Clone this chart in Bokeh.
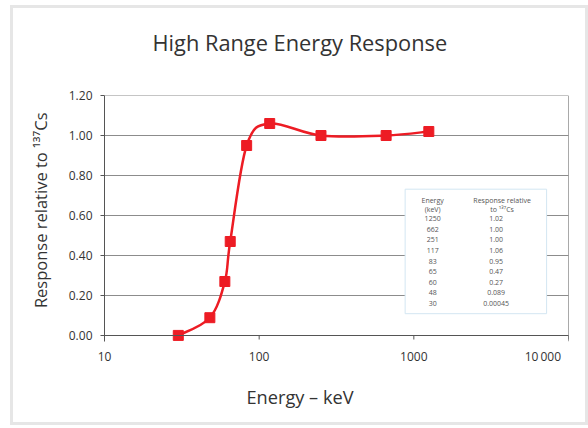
import numpy as np
from bokeh.plotting import figure
from bokeh.models import (Range1d, FixedTicker, NumeralTickFormatter, Span, Title,
                          ColumnDataSource, CustomJSTickFormatter)
from bokeh.core.properties import value
from bokeh.embed import file_html
from bokeh.resources import INLINE

# ---- data ----
energy_kev = [30, 48, 60, 65, 83, 117, 251, 662, 1250]
response = [0.00045, 0.089, 0.27, 0.47, 0.95, 1.06, 1.00, 1.00, 1.02]
response_labels = ["0.00045", "0.089", "0.27", "0.47", "0.95", "1.06", "1.00", "1.00", "1.02"]
x_ticks = [10, 100, 1000, 10000]
x_tick_labels = ["10", "100", "1000", "10\u2009000\u2007\u2007\u2007\u2007"]
y_ticks = [0.0, 0.2, 0.4, 0.6, 0.8, 1.0, 1.2]
table_headers_1 = ["Energy", "(keV)"]
table_headers_2 = ["Response relative", "to \u00b9\u00b3\u2077Cs"]

FONT = "Open Sans"
RED = "#ed1c24"
TXT = "#333333"
GRID = "#8c8c8c"
AXIS = "#555555"

W, H = 588, 428
p = figure(width=W, height=H, x_axis_type="log",
           x_range=Range1d(10, 10000), y_range=Range1d(-0.03, 1.2),
           output_backend="svg", toolbar_location=None, title_location=None,
           min_border_left=104, min_border_right=20, min_border_top=95, min_border_bottom=87)
p.outline_line_color = None
p.background_fill_color = "white"
p.border_fill_color = "white"
p.stylesheets = [
    ":host { position: relative; }",
    ":host::after { content: ''; position: absolute; left: 10px; top: 5px; width: 572px; height: 414px;"
    " border: 3px solid #e6e6e6; pointer-events: none; z-index: 100; }",
]

# titles (spacer first = closest to the frame)
p.add_layout(Title(text="\u00a0", text_font_size="1px", standoff=31), "above")
p.add_layout(Title(text="High Range Energy Response", align="left", offset=48, standoff=10,
                   text_font=FONT, text_font_size="21.8px", text_font_style="normal",
                   text_color=TXT), "above")

# axes
xa = p.xaxis[0]
xa.ticker = FixedTicker(ticks=x_ticks)
xa.formatter = CustomJSTickFormatter(args=dict(tv=x_ticks, tl=x_tick_labels), code="""
    for (let i = 0; i < tv.length; i++) {
        if (Math.abs(Math.log10(tick) - Math.log10(tv[i])) < 1e-6) { return tl[i]; }
    }
    return "";
""")
xa.minor_tick_line_color = None
xa.major_tick_in = 0
xa.major_tick_out = 0
xa.major_tick_line_color = None
xa.axis_line_color = None
xa.major_label_standoff = 6
xa.major_label_text_font = FONT
xa.major_label_text_font_size = "12px"
xa.major_label_text_color = TXT

ya = p.yaxis[0]
ya.ticker = FixedTicker(ticks=y_ticks)
ya.formatter = NumeralTickFormatter(format="0.00")
ya.minor_tick_line_color = None
ya.major_tick_in = 0
ya.major_tick_out = 4
ya.major_label_standoff = 8
ya.axis_line_color = AXIS
ya.major_tick_line_color = AXIS
ya.major_label_text_font = FONT
ya.major_label_text_font_size = "12px"
ya.major_label_text_color = TXT

p.add_layout(Title(text="Response relative to \u00b9\u00b3\u2077Cs", align="right", offset=17, standoff=27,
                   text_font=FONT, text_font_size="16.5px", text_font_style="normal",
                   text_color=TXT), "left")
p.add_layout(Title(text="Energy \u2013 keV", align="left", offset=142, standoff=30,
                   text_font=FONT, text_font_size="18.2px", text_font_style="normal",
                   text_color=TXT), "below")

p.xgrid.grid_line_color = None
p.ygrid.ticker = FixedTicker(ticks=y_ticks)
p.ygrid.grid_line_color = GRID
p.ygrid.grid_line_width = 1

p.add_layout(Span(location=1.2, dimension="width", line_color=GRID, line_width=1))
p.add_layout(Span(location=10000, dimension="height", line_color=AXIS, line_width=1))
p.add_layout(Span(location=0, dimension="width", line_color=AXIS, line_width=1))
# x tick marks hanging below the zero line
p.segment(x0=x_ticks, x1=x_ticks, y0=[0] * len(x_ticks), y1=[-0.02] * len(x_ticks),
          line_color=AXIS, line_width=1)

# ---- smooth curve (cubic Bezier segments through the data, log-x space) ----
lx = np.log10(np.array(energy_kev, dtype=float))
yy = np.array(response, dtype=float)
n = len(lx)
seg = dict(x0=[], y0=[], x1=[], y1=[], cx0=[], cy0=[], cx1=[], cy1=[])
for i in range(n - 1):
    a = i - 1 if i > 0 else i
    b = i + 2 if i + 2 < n else i + 1
    seg["x0"].append(10 ** lx[i]); seg["y0"].append(yy[i])
    seg["x1"].append(10 ** lx[i + 1]); seg["y1"].append(yy[i + 1])
    seg["cx0"].append(10 ** (lx[i] + (lx[i + 1] - lx[a]) / 6)); seg["cy0"].append(yy[i] + (yy[i + 1] - yy[a]) / 6)
    seg["cx1"].append(10 ** (lx[i + 1] - (lx[b] - lx[i]) / 6)); seg["cy1"].append(yy[i + 1] - (yy[b] - yy[i]) / 6)
p.bezier(x0="x0", y0="y0", x1="x1", y1="y1", cx0="cx0", cy0="cy0", cx1="cx1", cy1="cy1",
         source=ColumnDataSource(seg), line_color=RED, line_width=2.5)
p.scatter(energy_kev, response, marker="square", size=10, fill_color=RED, line_color=RED)

# ---- inset table (positions given in page pixels, converted to data space) ----
X0_PX, DEC_PX = 104.3, 154.7
Y0_PX, UNIT_PX = 335.3, 200.0
def xd(px):
    return 10 ** (1 + (px - X0_PX) / DEC_PX)
def yd(py):
    return (Y0_PX - py) / UNIT_PX

p.quad(left=[xd(405)], right=[xd(546.5)], top=[yd(189)], bottom=[yd(313.5)],
       fill_color="white", line_color="#d3e6f2", line_width=1)

col1, col2, col2h = 432.5, 496, 502
rows_e = [str(e) for e in energy_kev][::-1]
rows_r = response_labels[::-1]
tx, ty, tt = [], [], []
for j, (h1, h2) in enumerate(zip(table_headers_1, table_headers_2)):
    py = 200 + j * 9.2
    tx += [xd(col1), xd(col2h)]; ty += [yd(py), yd(py)]; tt += [h1, h2]
for i, (e, r) in enumerate(zip(rows_e, rows_r)):
    py = 218.5 + i * 10.6
    tx += [xd(col1), xd(col2)]; ty += [yd(py), yd(py)]; tt += [e, r]
p.text(x=tx, y=ty, text=tt, text_font=value(FONT), text_font_size="7px",
       text_color="#555555", text_align="center", text_baseline="middle")

open("out.html", "w").write(file_html(p, INLINE))
